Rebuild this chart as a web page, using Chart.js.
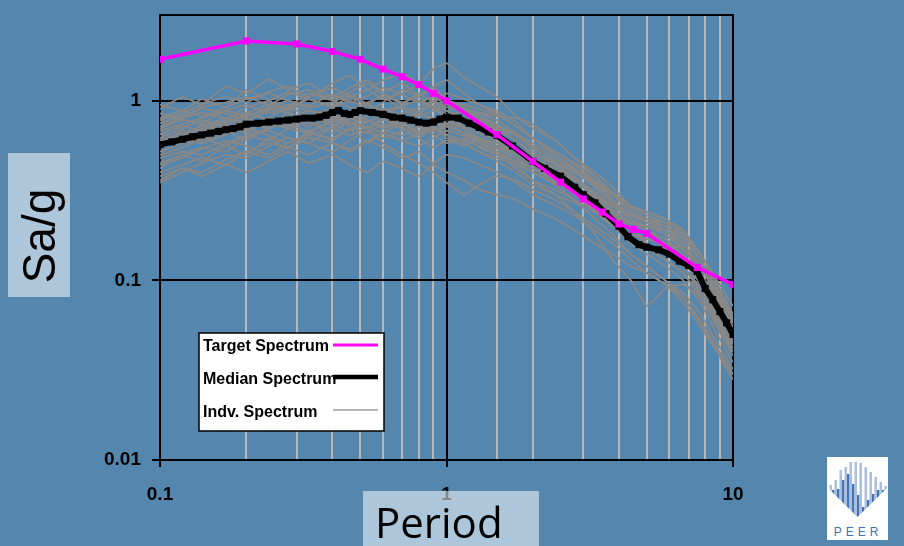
<!DOCTYPE html>
<html>
<head>
<meta charset="utf-8">
<script src="https://cdn.jsdelivr.net/npm/chart.js@4.4.1/dist/chart.umd.min.js"></script>
<style>
  body { margin: 0; background: #5486ae; }
  #wrap { position: relative; width: 904px; height: 546px; overflow: hidden; background: #5486ae; }
  #myChart { position: absolute; left: 0; top: 0; }
  .lab { position: absolute; background: rgba(255,255,255,0.53); color: #000; }
  #ylab { left: 8px; top: 153px; width: 62px; height: 144px; }
  #ylab span { position: absolute; left: 50%; top: 50%; transform: translate(-50%,-50%) translateY(11px) rotate(-90deg);
    font: 46px "Liberation Sans", Arial, sans-serif; white-space: nowrap; }
  #xlab { left: 363px; top: 491px; width: 164px; height: 55px; padding-left: 12px; text-align: left;
    font: 42px "Open Sans", sans-serif; line-height: 62px; }
  #logo { position: absolute; left: 827px; top: 457px; width: 61px; height: 83px; background: #fff; }
</style>
</head>
<body>
<div id="wrap">
  <canvas id="myChart" width="904" height="546"></canvas>
  <div class="lab" id="ylab"><span>Sa/g</span></div>
  <div class="lab" id="xlab">Period</div>
  <div id="logo">
    <svg width="61" height="83" viewBox="0 0 61 83">
      <defs><clipPath id="vclip"><polygon points="1,31 30.5,60 60,31 60,0 1,0"/></clipPath></defs>
      <g clip-path="url(#vclip)">
        <rect x="2.5" y="28" width="2.5" height="40" fill="#a9c0de"/>
        <rect x="5" y="33" width="2.5" height="40" fill="#4674b0"/>
        <rect x="7.5" y="23" width="2.5" height="40" fill="#a9c0de"/>
        <rect x="10" y="32" width="2.5" height="40" fill="#4674b0"/>
        <rect x="12.5" y="13" width="2.5" height="50" fill="#a9c0de"/>
        <rect x="15" y="23" width="2.5" height="40" fill="#4674b0"/>
        <rect x="17.5" y="10" width="2.5" height="50" fill="#a9c0de"/>
        <rect x="20" y="17" width="2.5" height="50" fill="#4674b0"/>
        <rect x="22.5" y="5" width="2.5" height="60" fill="#a9c0de"/>
        <rect x="25" y="27" width="2.5" height="40" fill="#4674b0"/>
        <rect x="27.5" y="5" width="2.5" height="60" fill="#a9c0de"/>
        <rect x="30" y="38" width="2.5" height="40" fill="#4674b0"/>
        <rect x="32.5" y="6" width="2.5" height="60" fill="#a9c0de"/>
        <rect x="35" y="50" width="2.5" height="30" fill="#4674b0"/>
        <rect x="37.5" y="10" width="2.5" height="60" fill="#a9c0de"/>
        <rect x="40" y="43" width="2.5" height="30" fill="#4674b0"/>
        <rect x="42.5" y="15" width="2.5" height="50" fill="#a9c0de"/>
        <rect x="45" y="37" width="2.5" height="30" fill="#4674b0"/>
        <rect x="47.5" y="20" width="2.5" height="40" fill="#a9c0de"/>
        <rect x="50" y="33" width="2.5" height="30" fill="#4674b0"/>
        <rect x="52.5" y="25" width="2.5" height="40" fill="#a9c0de"/>
        <rect x="55" y="33" width="2.5" height="30" fill="#4674b0"/>
        <rect x="57.5" y="29" width="2.5" height="30" fill="#a9c0de"/>
      </g>
      <text x="31" y="79" text-anchor="middle" font-family="Liberation Sans, Arial, sans-serif"
        font-size="12" letter-spacing="4" fill="#4674b0">PEER</text>
    </svg>
  </div>
</div>
<script>
// ---- target spectrum (magenta)
const targetPeriods = [0.1, 0.2, 0.3, 0.4, 0.5, 0.6, 0.7, 0.8, 0.9, 1, 1.5, 2, 2.5, 3, 3.5, 4, 4.5, 5, 7.5, 10];
const targetSa = [1.70, 2.15, 2.07, 1.88, 1.70, 1.50, 1.36, 1.23, 1.10, 1.0, 0.647, 0.46, 0.352, 0.284, 0.24, 0.206, 0.192, 0.182, 0.118, 0.095];

// ---- median spectrum (black)
const medianPeriods = [0.1, 0.11, 0.12, 0.13, 0.14, 0.15, 0.16, 0.17, 0.18, 0.19,
  0.2, 0.22, 0.24, 0.26, 0.28, 0.3, 0.32, 0.34, 0.36, 0.38,
  0.4, 0.42, 0.44, 0.46, 0.48, 0.5, 0.55, 0.6, 0.65, 0.7,
  0.75, 0.8, 0.85, 0.9, 0.95, 1.0, 1.1, 1.2, 1.3, 1.4,
  1.5, 1.7, 2.0, 2.2, 2.5, 2.8, 3.0, 3.3, 3.6, 4.0,
  4.3, 4.7, 5.0, 5.5, 6.0, 6.5, 7.0, 7.5, 8.0, 8.5,
  9.0, 9.5, 10];
const medianSa = [0.57, 0.59, 0.61, 0.63, 0.645, 0.66, 0.675, 0.69, 0.70, 0.715,
  0.74, 0.75, 0.76, 0.77, 0.78, 0.79, 0.80, 0.80, 0.81, 0.83,
  0.86, 0.88, 0.85, 0.84, 0.86, 0.88, 0.86, 0.84, 0.81, 0.80,
  0.78, 0.76, 0.75, 0.76, 0.79, 0.81, 0.80, 0.75, 0.71, 0.67,
  0.64, 0.56, 0.46, 0.42, 0.38, 0.33, 0.30, 0.27, 0.235, 0.20,
  0.175, 0.158, 0.153, 0.148, 0.14, 0.128, 0.121, 0.112, 0.09, 0.078,
  0.067, 0.058, 0.05];

// ---- individual records (gray), all on the same periods
const indvPeriods = [0.1, 0.12, 0.14, 0.17, 0.2, 0.24, 0.28, 0.33, 0.4, 0.46, 0.53, 0.6, 0.7, 0.8, 0.9, 1.0,
  1.15, 1.3, 1.5, 1.75, 2.0, 2.4, 2.8, 3.3, 3.8, 4.4, 5.0, 5.8, 6.7, 7.7, 8.8, 10];
const indv01 = [0.78,0.85,0.95,1.05,0.98,1.12,1.20,1.05,1.25,1.38,1.15,1.30,1.42,1.25,1.50,1.62,1.35,1.20,1.05,0.82,0.70,0.60,0.48,0.40,0.33,0.26,0.23,0.21,0.17,0.13,0.090,0.060];
const indv02 = [0.38,0.42,0.40,0.47,0.52,0.48,0.55,0.50,0.58,0.52,0.60,0.55,0.48,0.52,0.45,0.50,0.48,0.44,0.40,0.35,0.30,0.26,0.23,0.19,0.16,0.13,0.11,0.095,0.075,0.055,0.040,0.030];
const indv03 = [0.62,0.70,0.78,0.72,0.85,0.95,0.88,1.02,0.92,0.85,0.98,1.05,0.90,0.82,0.88,0.95,0.85,0.78,0.70,0.60,0.50,0.44,0.38,0.30,0.25,0.21,0.19,0.17,0.14,0.10,0.070,0.048];
const indv04 = [0.50,0.55,0.62,0.68,0.60,0.72,0.80,0.75,0.70,0.88,0.95,0.80,0.72,0.85,0.78,0.68,0.75,0.72,0.62,0.55,0.48,0.38,0.32,0.28,0.24,0.20,0.16,0.14,0.12,0.085,0.060,0.042];
const indv05 = [0.70,0.78,0.75,0.88,0.95,0.85,0.92,1.10,1.00,0.92,0.85,0.98,1.15,1.05,0.90,0.82,0.88,0.80,0.72,0.65,0.55,0.45,0.40,0.34,0.30,0.25,0.22,0.20,0.16,0.12,0.085,0.062];
const indv06 = [0.45,0.50,0.55,0.52,0.62,0.68,0.62,0.58,0.72,0.80,0.70,0.62,0.68,0.75,0.65,0.58,0.62,0.55,0.50,0.46,0.42,0.36,0.30,0.24,0.20,0.17,0.15,0.13,0.11,0.080,0.055,0.038];
const indv07 = [0.85,0.80,0.92,0.98,1.05,0.95,1.08,1.15,1.02,1.12,1.25,1.10,0.98,1.05,1.18,1.02,0.92,0.85,0.78,0.66,0.58,0.50,0.42,0.36,0.30,0.24,0.21,0.18,0.15,0.11,0.078,0.055];
const indv08 = [0.55,0.60,0.58,0.65,0.70,0.64,0.58,0.66,0.78,0.72,0.66,0.74,0.70,0.62,0.55,0.60,0.58,0.52,0.48,0.44,0.40,0.35,0.31,0.27,0.24,0.21,0.20,0.18,0.15,0.11,0.075,0.050];
const indv09 = [0.35,0.40,0.45,0.50,0.48,0.56,0.62,0.58,0.52,0.60,0.68,0.58,0.50,0.45,0.40,0.35,0.30,0.34,0.38,0.36,0.32,0.28,0.24,0.20,0.17,0.14,0.12,0.10,0.085,0.065,0.045,0.032];
const indv10 = [0.65,0.72,0.68,0.76,0.82,0.90,0.85,0.78,0.92,1.00,0.90,0.82,0.76,0.88,0.98,1.10,1.02,0.95,0.88,0.76,0.62,0.52,0.44,0.36,0.28,0.22,0.19,0.16,0.13,0.095,0.065,0.045];
const indv11 = [0.60,0.66,0.72,0.80,0.75,0.70,0.78,0.88,0.82,0.75,0.70,0.78,0.85,0.72,0.68,0.75,0.70,0.62,0.55,0.48,0.42,0.36,0.30,0.25,0.20,0.16,0.14,0.12,0.10,0.075,0.050,0.035];
const indv12 = [0.48,0.52,0.50,0.58,0.64,0.60,0.70,0.66,0.62,0.70,0.76,0.82,0.74,0.68,0.74,0.80,0.72,0.66,0.60,0.52,0.44,0.40,0.36,0.30,0.26,0.23,0.22,0.20,0.17,0.13,0.090,0.060];
const indv13 = [0.75,0.82,0.90,0.85,0.78,0.88,0.95,0.88,0.80,0.86,0.78,0.70,0.78,0.85,0.80,0.72,0.66,0.60,0.56,0.50,0.46,0.42,0.37,0.31,0.26,0.22,0.20,0.19,0.16,0.12,0.082,0.055];
const indv14 = [0.40,0.44,0.48,0.44,0.52,0.58,0.55,0.62,0.58,0.54,0.60,0.66,0.60,0.56,0.62,0.68,0.64,0.58,0.52,0.46,0.40,0.34,0.28,0.22,0.18,0.14,0.12,0.10,0.080,0.058,0.040,0.028];
const indv15 = [0.58,0.64,0.70,0.78,0.86,0.78,0.72,0.82,0.90,0.82,0.76,0.84,0.92,0.86,0.94,0.88,0.80,0.74,0.68,0.60,0.52,0.44,0.36,0.29,0.24,0.19,0.16,0.14,0.12,0.090,0.062,0.044];
const indv16 = [0.52,0.58,0.62,0.56,0.64,0.70,0.78,0.72,0.80,0.74,0.82,0.90,0.84,0.92,1.00,0.92,0.88,0.86,0.82,0.80,0.74,0.60,0.48,0.38,0.30,0.24,0.21,0.19,0.16,0.12,0.085,0.058];
const indv17 = [0.68,0.74,0.80,0.88,0.82,0.92,1.00,0.92,0.98,1.08,0.96,0.88,0.94,1.00,0.92,0.84,0.78,0.70,0.62,0.52,0.44,0.37,0.31,0.25,0.21,0.18,0.17,0.16,0.14,0.10,0.068,0.046];
const indv18 = [0.44,0.48,0.54,0.60,0.56,0.50,0.58,0.64,0.70,0.64,0.72,0.66,0.60,0.66,0.72,0.65,0.60,0.56,0.50,0.42,0.36,0.32,0.28,0.24,0.22,0.20,0.18,0.15,0.12,0.090,0.060,0.040];
const indv19 = [0.80,0.88,0.82,0.92,1.02,1.10,1.00,0.94,1.08,0.98,1.06,1.18,1.08,0.98,1.04,0.96,0.90,0.82,0.74,0.64,0.54,0.46,0.40,0.33,0.27,0.23,0.21,0.20,0.18,0.14,0.10,0.072];
const indv20 = [0.56,0.62,0.60,0.68,0.74,0.80,0.74,0.68,0.76,0.84,0.78,0.72,0.80,0.74,0.68,0.72,0.66,0.62,0.58,0.50,0.44,0.38,0.32,0.26,0.21,0.17,0.15,0.13,0.11,0.082,0.056,0.040];
const indv21 = [0.62,0.58,0.66,0.72,0.68,0.76,0.70,0.78,0.84,0.76,0.70,0.80,0.74,0.66,0.72,0.78,0.70,0.60,0.52,0.44,0.36,0.30,0.24,0.18,0.13,0.10,0.072,0.090,0.095,0.080,0.058,0.040];
const indv22 = [0.72,0.80,0.86,0.80,0.92,1.00,1.12,1.02,0.94,1.05,1.15,1.02,1.10,1.22,1.08,1.00,0.95,0.90,0.84,0.72,0.62,0.52,0.45,0.38,0.31,0.26,0.24,0.22,0.19,0.14,0.095,0.065];
const indv23 = [0.90,1.05,0.95,1.20,1.10,1.32,1.15,1.25,1.05,1.18,1.30,1.12,1.25,1.08,1.20,1.30,1.10,0.95,0.85,0.72,0.62,0.50,0.42,0.34,0.28,0.23,0.21,0.19,0.15,0.11,0.075,0.052];
const indv24 = [0.42,0.50,0.46,0.56,0.50,0.62,0.54,0.68,0.60,0.70,0.58,0.66,0.76,0.64,0.72,0.62,0.56,0.62,0.54,0.48,0.42,0.38,0.33,0.29,0.26,0.23,0.22,0.21,0.19,0.14,0.095,0.062];
const indv25 = [0.66,0.60,0.74,0.68,0.80,0.70,0.86,0.76,0.66,0.78,0.90,0.80,0.70,0.62,0.70,0.64,0.58,0.52,0.46,0.40,0.34,0.30,0.27,0.25,0.23,0.21,0.19,0.17,0.14,0.10,0.068,0.045];
const indv26 = [0.95,0.88,1.02,0.92,1.15,1.00,0.90,1.05,1.18,1.05,0.95,1.08,0.96,1.10,0.98,0.88,0.80,0.74,0.70,0.64,0.56,0.48,0.41,0.35,0.30,0.26,0.24,0.22,0.18,0.13,0.088,0.060];
const indv27 = [0.36,0.42,0.38,0.44,0.40,0.46,0.52,0.45,0.50,0.44,0.40,0.46,0.42,0.38,0.44,0.40,0.36,0.32,0.30,0.28,0.25,0.22,0.19,0.16,0.14,0.12,0.11,0.095,0.080,0.060,0.042,0.030];
const indv28 = [0.58,0.68,0.62,0.74,0.66,0.80,0.92,0.82,0.74,0.68,0.78,0.70,0.64,0.72,0.80,0.74,0.66,0.60,0.58,0.52,0.48,0.42,0.34,0.27,0.22,0.19,0.17,0.16,0.15,0.12,0.080,0.052];
const indvRecords = [indv01, indv02, indv03, indv04, indv05, indv06, indv07, indv08, indv09, indv10, indv11,
  indv12, indv13, indv14, indv15, indv16, indv17, indv18, indv19, indv20, indv21, indv22,
  indv23, indv24, indv25, indv26, indv27, indv28];

const TICK_FONT = { family: '"Liberation Sans", Arial, sans-serif', size: 19, weight: 'bold' };
const isDecade = (v) => Math.abs(Math.log10(v) - Math.round(Math.log10(v))) < 1e-6;
const toXY = (xs, ys) => xs.map((p, i) => ({ x: p, y: ys[i] }));

const datasets = [
  {
    label: 'Target Spectrum',
    data: toXY(targetPeriods, targetSa),
    borderColor: '#ff00ff', backgroundColor: '#ff00ff',
    borderWidth: 3.5, pointStyle: 'rect', pointRadius: 5, pointBorderWidth: 0
  },
  {
    label: 'Median Spectrum',
    data: toXY(medianPeriods, medianSa),
    borderColor: '#000', backgroundColor: '#000',
    borderWidth: 6, pointStyle: 'rect', pointRadius: 5, pointBorderWidth: 0
  }
];
indvRecords.forEach((rec, i) => {
  datasets.push({
    label: 'Indv. Spectrum ' + (i + 1),
    data: toXY(indvPeriods, rec),
    borderColor: '#888888', borderWidth: 1.8, pointRadius: 0, tension: 0.1
  });
});

//----PLUGINS
const frame = {
  id: 'frame',
  beforeDatasetsDraw(chart) {
    const { ctx, chartArea: { top, bottom, left, right } } = chart;
    ctx.save();
    ctx.lineWidth = 2;
    ctx.strokeStyle = '#000';
    ctx.strokeRect(left, top, right - left, bottom - top);
    ctx.restore();
  }
};
const legendBox = {
  id: 'legendBox',
  afterDraw(chart) {
    const { ctx, chartArea: { left, bottom } } = chart;
    const bx = left + 39, by = bottom - 127, bw = 185, bh = 98;
    ctx.save();
    ctx.fillStyle = '#fff';
    ctx.fillRect(bx, by, bw, bh);
    ctx.lineWidth = 1.5;
    ctx.strokeStyle = '#000';
    ctx.strokeRect(bx, by, bw, bh);
    const rows = [
      { text: 'Target Spectrum', color: '#ff00ff', w: 3, ly: 12, ty: 14 },
      { text: 'Median Spectrum', color: '#000', w: 4.5, ly: 44, ty: 47 },
      { text: 'Indv. Spectrum', color: '#a0a0a0', w: 1.6, ly: 77, ty: 80 }
    ];
    ctx.font = 'bold 16px "Liberation Sans", Arial, sans-serif';
    ctx.textBaseline = 'middle';
    rows.forEach(r => {
      ctx.beginPath();
      ctx.lineWidth = r.w;
      ctx.strokeStyle = r.color;
      ctx.moveTo(bx + 134, by + r.ly);
      ctx.lineTo(bx + 179, by + r.ly);
      ctx.stroke();
      ctx.fillStyle = '#000';
      ctx.fillText(r.text, bx + 4, by + r.ty);
    });
    ctx.restore();
  }
};

//----CONFIG
const config = {
  type: 'line',
  data: { datasets },
  options: {
    responsive: false,
    animation: false,
    events: [],
    layout: { padding: { top: 15, right: 171, left: 0, bottom: 0 } },
    scales: {
      x: {
        type: 'logarithmic', min: 0.1, max: 10,
        afterFit: (s) => { s.height = 86; s.paddingLeft = 0; s.paddingRight = 0; },
        border: { display: true, color: '#000', width: 2 },
        grid: {
          lineWidth: 2,
          color: (c) => isDecade(c.tick.value) ? '#000' : '#b8b8b8',
          tickColor: (c) => isDecade(c.tick.value) ? '#000' : 'rgba(0,0,0,0)',
          tickLength: 7
        },
        ticks: {
          autoSkip: false, maxRotation: 0, color: '#000', font: TICK_FONT, padding: 16,
          callback: (v) => isDecade(v) ? String(Number(v.toPrecision(1))) : ''
        }
      },
      y: {
        type: 'logarithmic', min: 0.01, max: 3,
        afterFit: (s) => { s.width = 160; s.paddingTop = 0; s.paddingBottom = 0; },
        border: { display: true, color: '#000', width: 2 },
        grid: {
          lineWidth: 2,
          color: (c) => isDecade(c.tick.value) ? '#000' : 'rgba(0,0,0,0)',
          tickColor: (c) => isDecade(c.tick.value) ? '#000' : 'rgba(0,0,0,0)',
          tickLength: 8
        },
        ticks: {
          autoSkip: false, color: '#000', font: TICK_FONT, padding: 11,
          callback: (v) => isDecade(v) ? String(Number(v.toPrecision(1))) : ''
        }
      }
    },
    plugins: { legend: { display: false }, tooltip: { enabled: false } }
  },
  plugins: [frame, legendBox]
};

const myChart = new Chart(document.getElementById('myChart'), config);
</script>
</body>
</html>
